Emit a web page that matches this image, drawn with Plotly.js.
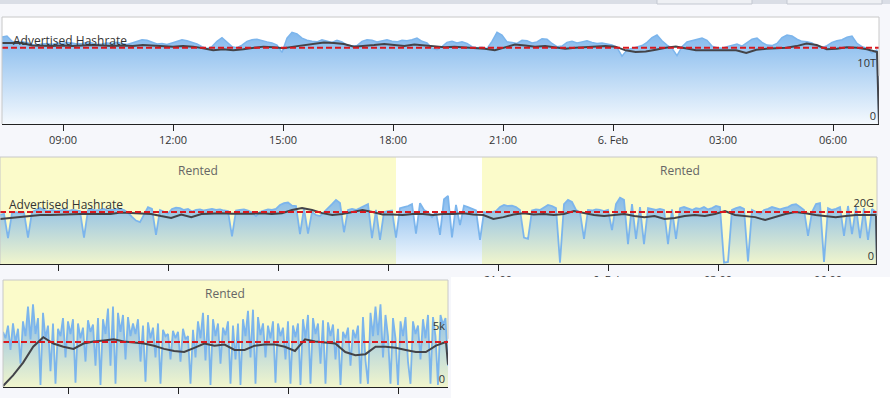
<!DOCTYPE html>
<html><head><meta charset="utf-8">
<script src="https://cdn.plot.ly/plotly-3.0.1.min.js"></script>
<style>html,body{margin:0;padding:0;background:#fff;}#chart{width:890px;height:398px;}</style>
</head><body><div id="chart"></div>
<script>
// ---------- DATA ----------
// Chart 1 (TH/s): raw hashrate, moving average, advertised
const c1Start = '2018-02-05 07:20:11', c1LastSample = '2018-02-06 07:12:00', c1End = '2018-02-06 07:15:16';
const c1Blue = [16.4,16.6,15.6,15.3,15.5,15.4,15.0,14.9,15.1,15.2,
15.0,15.3,15.2,15.4,15.3,15.1,15.2,15.4,15.3,15.0,
15.1,15.3,15.2,15.4,15.2,15.0,15.3,15.6,15.9,15.8,
15.4,15.1,15.2,15.0,15.3,15.6,15.9,15.7,15.4,15.1,
14.6,14.2,14.6,15.6,16.3,15.4,14.6,14.4,14.9,15.6,
15.9,16.0,15.7,15.5,15.3,14.9,13.5,16.2,17.3,17.0,
16.2,15.8,15.6,15.5,15.9,15.7,15.4,15.8,15.5,14.9,
14.7,14.8,15.6,15.9,15.8,15.5,15.7,15.9,15.6,15.5,
15.8,15.7,15.9,16.2,15.6,15.3,14.3,14.0,14.6,15.4,
15.6,15.3,15.5,15.2,14.6,14.4,14.5,14.2,15.6,17.3,
16.8,15.5,15.4,15.2,15.8,15.7,15.3,15.5,16.1,16.0,
15.2,14.6,14.7,15.4,15.6,15.3,15.5,15.7,15.4,15.2,
15.3,15.1,14.9,14.4,12.8,14.0,14.3,14.5,14.8,15.4,
16.3,16.8,15.7,14.9,14.3,12.9,14.6,15.5,15.7,15.9,
16.2,15.8,14.7,14.4,14.3,14.6,14.9,15.1,14.7,15.3,
16.0,16.2,15.4,14.9,14.8,15.2,16.3,16.8,16.6,16.0,
15.6,15.5,15.3,14.6,14.4,14.8,15.4,15.7,15.9,16.4,
16.6,15.2,14.6,14.3,13.4,14.0,
0];
const c1Avg = [15.3,15.3,15.3,14.8,14.7,14.7,14.8,14.7,14.8,14.9,
14.8,14.7,14.8,14.7,14.9,14.8,14.7,14.6,14.7,14.6,
14.3,13.9,14.1,13.9,14.1,14.4,14.6,14.5,14.3,14.6,
14.9,15.1,15.4,15.3,15.1,14.6,14.7,14.9,15.1,14.9,
14.7,15.0,14.8,14.6,14.5,14.6,14.5,14.3,14.2,13.9,
14.5,15.0,14.8,14.6,14.7,14.4,14.2,14.4,14.5,14.7,
14.7,14.6,13.9,13.6,13.7,14.0,14.4,14.6,14.2,13.9,
13.9,13.9,14.0,13.9,13.4,14.0,14.2,14.3,14.4,14.7,
15.2,14.9,14.1,14.2,14.5,14.4,14.1,13.6,
0];
const c1Advertised = 14.4;
const c1TickVals = ['2018-02-05 09:00','2018-02-05 12:00','2018-02-05 15:00','2018-02-05 18:00','2018-02-05 21:00','2018-02-06 00:00','2018-02-06 03:00','2018-02-06 06:00'];
const c1TickText = ['09:00','12:00','15:00','18:00','21:00','6. Feb','03:00','06:00'];
const c1YTickVals = [0, 10];
const c1YTickText = ['0', '10T'];

// Chart 2 (GH/s)
const c2Start = '2018-02-05 07:25:05', c2LastSample = '2018-02-06 07:18:33', c2End = '2018-02-06 07:20:10';
const c2Blue = [18.5,18.9,9.8,19.2,19.6,19.2,19.4,10.0,19.6,20.4,
21.1,20.4,20.0,20.4,20.0,20.2,20.6,20.0,20.4,20.2,
20.0,10.0,20.4,20.6,20.2,20.4,20.8,20.2,20.4,20.6,
20.8,20.4,19.4,17.8,16.4,15.8,18.5,21.5,20.8,11.0,
20.4,19.6,19.0,20.8,21.3,21.1,20.4,20.8,19.8,20.4,
20.6,20.2,20.4,20.8,20.4,20.6,20.2,20.0,10.4,20.2,
20.4,20.6,20.2,19.4,18.1,19.6,20.2,20.6,20.4,20.8,
22.3,23.0,23.2,22.0,21.9,11.3,21.0,11.5,19.6,18.5,
18.1,19.6,20.8,22.6,24.2,23.0,12.0,20.4,20.8,20.4,
21.1,21.9,22.6,9.8,20.4,9.1,19.6,20.0,20.2,10.0,
21.1,21.5,21.9,22.6,11.5,23.0,20.4,19.6,17.7,19.6,
11.0,24.5,25.7,10.0,22.3,14.7,22.0,21.5,20.8,20.2,
9.1,19.6,19.2,19.6,20.0,21.5,22.3,21.9,22.0,21.5,
20.4,10.0,9.5,20.2,20.6,20.4,21.5,22.3,21.9,21.1,
0.5,22.6,24.2,23.4,20.4,19.6,9.5,20.4,20.2,20.6,
20.4,20.0,20.4,12.8,22.6,25.0,24.2,7.5,22.6,9.5,
21.5,7.5,21.1,20.8,20.4,20.8,20.4,7.5,20.6,9.5,
21.1,21.5,20.8,20.4,21.1,20.8,21.5,20.6,21.1,21.9,
21.5,0.5,0.8,20.4,21.1,21.5,20.8,1.0,20.4,19.6,
18.9,20.4,20.8,21.5,21.1,20.6,21.1,21.5,22.3,22.6,
21.5,20.4,10.6,19.6,22.6,23.0,0.8,21.1,20.4,20.8,
21.5,10.6,21.9,11.3,21.5,9.8,21.1,9.1,20.8,19.6,
0];
const c2Avg = [17.0,17.4,17.7,18.3,18.5,18.5,18.7,18.9,18.9,18.9,
19.0,18.9,19.4,19.2,19.0,18.9,18.1,17.4,18.7,17.7,
18.9,19.0,19.2,19.0,18.9,19.0,19.2,18.9,19.2,20.4,
21.1,20.4,19.2,18.5,18.9,19.6,20.4,19.6,18.7,18.7,
18.5,18.9,18.9,18.5,18.9,18.9,19.2,18.7,18.5,17.0,
17.7,18.7,19.2,18.7,18.9,18.5,18.9,20.0,19.2,18.5,
18.1,18.5,18.9,18.1,17.7,18.1,17.0,17.4,18.1,18.5,
18.1,18.9,20.0,18.5,18.1,17.7,16.6,17.7,18.9,19.6,
19.2,18.5,18.1,17.7,18.1,18.5,18.5,18.5,
0];
const c2Advertised = 19.6;
const c2RentedFrom = ['2018-02-05 07:25:05', '2018-02-05 20:33:49'];
const c2RentedTo = ['2018-02-05 18:13:05', '2018-02-06 07:20:10'];
const c2TickVals = c1TickVals;
const c2TickText = ['','','','','21:00','6. Feb','03:00','06:00'];
const c2YTickVals = [0, 20];
const c2YTickText = ['0', '20G'];

// Chart 3 (kH/s)
const c3Start = '2018-02-05 19:13:38', c3LastSample = '2018-02-06 07:21:49';
const c3AvgLastSample = '2018-02-06 07:18:33', c3End = '2018-02-06 07:21:49';
const c3Blue = [5.2,4.6,5.8,3.5,6.0,4.2,5.5,2.2,6.2,4.8,
7.6,4.5,7.8,5.0,6.5,0.2,7.0,4.6,5.8,1.5,
6.0,0.3,5.5,4.8,6.5,2.8,6.2,5.0,6.4,0.4,
6.0,4.6,5.6,2.4,6.3,5.2,5.9,2.0,6.5,0.2,
6.4,5.0,7.4,2.0,7.6,0.3,7.0,5.2,6.8,2.6,
6.6,4.8,6.0,5.0,6.4,2.4,5.8,0.5,6.1,4.6,
5.6,2.8,6.0,0.3,5.4,4.8,5.0,2.6,5.3,4.6,
5.2,2.4,5.5,4.5,4.8,0.3,5.4,2.8,6.2,4.6,
7.0,2.5,6.8,0.2,6.4,4.8,6.0,2.2,5.6,4.9,
6.2,0.3,5.8,2.6,6.0,0.2,6.4,4.8,7.2,2.8,
7.3,0.3,6.6,4.9,6.0,2.8,5.8,4.6,6.2,0.4,
6.0,4.8,5.6,2.6,6.2,0.3,5.8,4.7,6.0,0.2,
6.4,4.6,6.8,0.3,6.5,5.0,6.0,2.2,6.3,0.3,
6.1,4.8,5.9,2.6,5.5,0.2,5.2,4.6,5.6,2.0,
5.4,4.6,5.8,0.3,6.6,2.5,0.3,7.0,4.8,7.6,
4.9,7.8,2.8,6.8,4.8,0.3,6.5,4.6,0.2,6.2,
4.8,6.6,2.4,0.3,6.2,5.0,5.8,2.6,6.4,4.6,
6.8,0.3,6.6,4.8,0.2,6.8,5.9,6.5,2.0];
const c3Avg = [0.1,1.1,2.3,3.8,4.7,4.1,3.8,3.6,4.1,4.3,
4.4,4.5,4.3,4.2,4.1,3.9,3.6,3.4,3.3,3.7,
4.1,3.9,4.0,3.5,3.5,3.9,4.0,4.0,3.8,3.4,
4.5,4.3,4.2,4.1,3.3,3.0,3.1,3.8,3.8,3.7,
3.5,3.3,3.3,3.9,4.25,
2.1];
const c3Advertised = 4.25;
const c3RentedFrom = ['2018-02-05 19:13:38'];
const c3RentedTo = ['2018-02-06 07:21:49'];
const c3TickVals = ['2018-02-05 21:00','2018-02-06 00:00','2018-02-06 03:00','2018-02-06 06:00'];
const c3YTickVals = [0, 5];
const c3YTickText = ['0', '5k'];

const rentedLabel = 'Rented';
const advertisedLabel = 'Advertised Hashrate';

// ---------- HELPERS ----------
function toMs(s){const p=s.split(' ');const d=p[0].split('-').map(Number);const t=(p[1]+':00:00').split(':').map(Number);return Date.UTC(d[0],d[1]-1,d[2],t[0],t[1],t[2]);}
function fmt(ms){return new Date(ms).toISOString().slice(0,19).replace('T',' ');}
function times(start,last,n,end){const a=toMs(start),b=toMs(last);const m=end?n-1:n;const out=[];for(let i=0;i<m;i++)out.push(fmt(a+(b-a)*i/(m-1)));if(end)out.push(end);return out;}
function mid(a,b){return fmt((toMs(a)+toMs(b))/2);}

const BLUE='#7cb5ec', DARK='#434348', RED='#d9181e', BAND='#fbfbca';
const FONT='Open Sans, DejaVu Sans, sans-serif';

function areaTrace(x,y,xa,ya,w){
  const mx=Math.max.apply(null,y);
  return {x:x,y:y,xaxis:xa,yaxis:ya,type:'scatter',mode:'lines',line:{color:BLUE,width:w},fill:'tozeroy',
    fillgradient:{type:'vertical',start:0,stop:mx,colorscale:[[0,'rgba(124,181,236,0.08)'],[1,'rgba(124,181,236,0.95)']]},hoverinfo:'skip'};
}
function lineTrace(x,y,xa,ya){return {x:x,y:y,xaxis:xa,yaxis:ya,type:'scatter',mode:'lines',line:{color:DARK,width:2},hoverinfo:'skip'};}
function advTrace(s,e,v,xa,ya){return {x:[s,e],y:[v,v],xaxis:xa,yaxis:ya,type:'scatter',mode:'lines',line:{color:RED,width:2,dash:'6px,3px'},hoverinfo:'skip'};}

const data=[
  areaTrace(times(c1Start,c1LastSample,c1Blue.length,c1End),c1Blue,'x','y',1.5),
  lineTrace(times(c1Start,c1LastSample,c1Avg.length,c1End),c1Avg,'x','y'),
  advTrace(c1Start,c1End,c1Advertised,'x','y'),
  areaTrace(times(c2Start,c2LastSample,c2Blue.length,c2End),c2Blue,'x2','y2',1.8),
  lineTrace(times(c2Start,c2LastSample,c2Avg.length,c2End),c2Avg,'x2','y2'),
  advTrace(c2Start,c2End,c2Advertised,'x2','y2'),
  areaTrace(times(c3Start,c3LastSample,c3Blue.length),c3Blue,'x3','y3',1.8),
  lineTrace(times(c3Start,c3AvgLastSample,c3Avg.length,c3End),c3Avg,'x3','y3'),
  advTrace(c3Start,c3End,c3Advertised,'x3','y3')
];

const W=890,H=398;
function xd(a,b){return [a/W,b/W];}
function yd(top,bottom){return [1-bottom/H,1-top/H];}
function xax(dom,anchor,range,tv,tt,show){return {domain:dom,anchor:anchor,type:'date',range:range,tickmode:'array',tickvals:tv,ticktext:tt,showticklabels:show,
  ticks:'outside',ticklen:6,tickcolor:'#222',tickwidth:1,showline:true,linecolor:'#222',linewidth:1,showgrid:false,zeroline:false,
  tickfont:{family:FONT,size:11,color:'#333'},fixedrange:true};}
function yax(dom,anchor,range,tv,tt){return {domain:dom,anchor:anchor,side:'right',range:range,tickmode:'array',tickvals:tv,ticktext:tt,
  ticklabelposition:'inside top',ticks:'',showline:false,showgrid:false,zeroline:false,tickfont:{family:FONT,size:11,color:'#333'},fixedrange:true};}

const shapes=[];
function frame(xr,yr){
  const c='#c8c8c8';
  shapes.push({type:'line',xref:xr+' domain',yref:yr+' domain',x0:0,x1:1,y0:1,y1:1,line:{color:c,width:1},layer:'above'});
  shapes.push({type:'line',xref:xr+' domain',yref:yr+' domain',x0:0,x1:0,y0:0,y1:1,line:{color:c,width:1},layer:'above'});
  shapes.push({type:'line',xref:xr+' domain',yref:yr+' domain',x0:1,x1:1,y0:0.45,y1:1,line:{color:c,width:1},layer:'above'});
}
c2RentedFrom.forEach((f,i)=>shapes.push({type:'rect',xref:'x2',yref:'y2 domain',x0:f,x1:c2RentedTo[i],y0:0,y1:1,fillcolor:BAND,line:{width:0},layer:'below'}));
c3RentedFrom.forEach((f,i)=>shapes.push({type:'rect',xref:'x3',yref:'y3 domain',x0:f,x1:c3RentedTo[i],y0:0,y1:1,fillcolor:BAND,line:{width:0},layer:'below'}));
frame('x','y');frame('x2','y2');frame('x3','y3');
// top toolbar strip
shapes.push({type:'rect',xref:'paper',yref:'paper',x0:0,x1:1,y0:1-4/H,y1:1,fillcolor:'#dadee6',line:{width:0},layer:'above'});
shapes.push({type:'rect',xref:'paper',yref:'paper',x0:657/W,x1:752/W,y0:1-4/H,y1:1.01,fillcolor:'#eef0f4',line:{color:'#c3c8d1',width:1},layer:'above'});
shapes.push({type:'rect',xref:'paper',yref:'paper',x0:787/W,x1:882/W,y0:1-4/H,y1:1.01,fillcolor:'#eef0f4',line:{color:'#c3c8d1',width:1},layer:'above'});
// area right of chart 3 hides the rest of chart 2's labels
shapes.push({type:'rect',xref:'paper',yref:'paper',x0:451/W,x1:1,y0:0,y1:1-277/H,fillcolor:'#ffffff',line:{width:0},layer:'above'});

const annotations=[
  {xref:'x domain',yref:'y',x:0,y:c1Advertised,xanchor:'left',yanchor:'middle',xshift:9,yshift:7,text:advertisedLabel,showarrow:false,font:{family:FONT,size:12,color:'#333'}},
  {xref:'x2 domain',yref:'y2',x:0,y:c2Advertised,xanchor:'left',yanchor:'middle',xshift:7,yshift:8,text:advertisedLabel,showarrow:false,font:{family:FONT,size:12,color:'#333'}}
];
c2RentedFrom.forEach((f,i)=>annotations.push({xref:'x2',yref:'y2 domain',x:mid(f,c2RentedTo[i]),y:1,yanchor:'top',yshift:-3,text:rentedLabel,showarrow:false,font:{family:FONT,size:12,color:'#666'}}));
c3RentedFrom.forEach((f,i)=>annotations.push({xref:'x3',yref:'y3 domain',x:mid(f,c3RentedTo[i]),y:1,yanchor:'top',yshift:-3,text:rentedLabel,showarrow:false,font:{family:FONT,size:12,color:'#666'}}));

const layout={width:W,height:H,margin:{l:0,r:0,t:0,b:0},paper_bgcolor:'#f6f7fb',plot_bgcolor:'#ffffff',showlegend:false,
  font:{family:FONT},
  xaxis:xax(xd(2,879),'y',[c1Start,c1End],c1TickVals,c1TickText,true),
  yaxis:yax(yd(17,124),'x',[0,20.19],c1YTickVals,c1YTickText),
  xaxis2:xax(xd(0,877),'y2',[c2Start,c2End],c2TickVals,c2TickText,true),
  yaxis2:yax(yd(157,264),'x2',[0,40.4],c2YTickVals,c2YTickText),
  xaxis3:xax(xd(3,448),'y3',[c3Start,c3End],c3TickVals,c3TickVals,false),
  yaxis3:yax(yd(280,387),'x3',[0,10.1],c3YTickVals,c3YTickText),
  shapes:shapes,annotations:annotations};

Plotly.newPlot('chart',data,layout,{staticPlot:true,displayModeBar:false});
</script></body></html>
